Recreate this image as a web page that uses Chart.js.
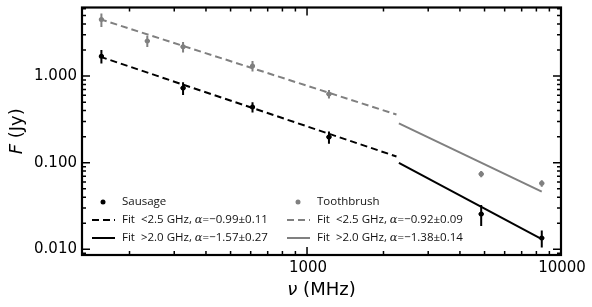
<!DOCTYPE html>
<html>
<head>
<meta charset="utf-8">
<script src="https://cdn.jsdelivr.net/npm/chart.js@4/dist/chart.umd.min.js"></script>
<style>
  html, body { margin: 0; padding: 0; background: #fff; }
  #wrap { width: 592px; height: 307px; }
</style>
</head>
<body>
<div id="wrap"><canvas id="c"></canvas></div>
<script>
// Dati (MHz, Jy)
const freqSausage = [155, 325, 610, 1220, 4850, 8400];
const fluxSausage = [1.70, 0.727, 0.44, 0.198, 0.0256, 0.0135];
const errSausage = [0.30, 0.12, 0.06, 0.032, 0.007, 0.003];

const freqToothbrush = [155, 235, 325, 610, 1220, 4850, 8400];
const fluxToothbrush = [4.5, 2.55, 2.18, 1.31, 0.62, 0.074, 0.0578];
const errToothbrush = [0.8, 0.38, 0.3, 0.18, 0.07, 0.006, 0.005];

// Rette di fit (estremi)
const fitLowFreq = [153, 2250];
const fitLowSausage = [1.68, 0.118];
const fitLowToothbrush = [4.55, 0.36];
const fitHighFreq = [2300, 8400];
const fitHighSausage = [0.0993, 0.0131];
const fitHighToothbrush = [0.285, 0.0463];

// Tick
const xMajorTicks = [1000, 10000];
const xMinorTicks = [200, 300, 400, 500, 600, 700, 800, 900, 2000, 3000, 4000, 5000, 6000, 7000, 8000, 9000];
const yMajorTicks = [0.01, 0.1, 1];
const yMinorTicks = [0.009, 0.02, 0.03, 0.04, 0.05, 0.06, 0.07, 0.08, 0.09,
                     0.2, 0.3, 0.4, 0.5, 0.6, 0.7, 0.8, 0.9, 2, 3, 4, 5, 6];

// Legenda
const legendRows = [
    ['Sausage', 'Toothbrush'],
    ['Fit  <2.5 GHz, ', 'Fit  <2.5 GHz, '],
    ['Fit  >2.0 GHz, ', 'Fit  >2.0 GHz, ']
];
const legendAlpha = [['', ''], ['=\u22120.99\u00b10.11', '=\u22120.92\u00b10.09'], ['=\u22121.57\u00b10.27', '=\u22121.38\u00b10.14']];

const GRAY = '#808080';
const toXY = (xs, ys) => xs.map((x, i) => ({ x: x, y: ys[i] }));

// Barre d'errore
const errorBars = {
    id: 'errorBars',
    afterDatasetsDraw(chart) {
        const ctx = chart.ctx;
        const xs = chart.scales.x, ys = chart.scales.y;
        chart.data.datasets.forEach(ds => {
            if (!ds.errors) return;
            ctx.save();
            ctx.strokeStyle = ds.backgroundColor;
            ctx.lineWidth = 2;
            ds.data.forEach((p, i) => {
                const px = xs.getPixelForValue(p.x);
                const top = ys.getPixelForValue(p.y + ds.errors[i]);
                const bot = ys.getPixelForValue(Math.max(p.y - ds.errors[i], 1e-4));
                const py = ys.getPixelForValue(p.y);
                ctx.beginPath();
                ctx.moveTo(px, top); ctx.lineTo(px, bot);
                ctx.moveTo(px - 2.5, py); ctx.lineTo(px + 2.5, py);
                ctx.stroke();
            });
            ctx.restore();
        });
    }
};

// Cornice, tick, etichette, titoli e legenda
const decor = {
    id: 'decor',
    afterDraw(chart) {
        const ctx = chart.ctx;
        const a = chart.chartArea;
        const xs = chart.scales.x, ys = chart.scales.y;
        ctx.save();
        ctx.strokeStyle = '#000';
        ctx.lineWidth = 1.5;
        ctx.beginPath();
        const xt = (v, len) => {
            const px = xs.getPixelForValue(v);
            ctx.moveTo(px, a.bottom); ctx.lineTo(px, a.bottom - len);
            ctx.moveTo(px, a.top); ctx.lineTo(px, a.top + len);
        };
        const yt = (v, len) => {
            const py = ys.getPixelForValue(v);
            if (py < a.top || py > a.bottom) return;
            ctx.moveTo(a.left, py); ctx.lineTo(a.left + len, py);
            ctx.moveTo(a.right, py); ctx.lineTo(a.right - len, py);
        };
        xMajorTicks.forEach(v => xt(v, 8));
        xMinorTicks.forEach(v => xt(v, 4));
        yMajorTicks.forEach(v => yt(v, 8));
        yMinorTicks.forEach(v => yt(v, 4));
        ctx.stroke();
        ctx.lineWidth = 2.2;
        ctx.strokeRect(a.left, a.top, a.right - a.left, a.bottom - a.top);

        // Etichette dei tick
        ctx.fillStyle = '#000';
        ctx.font = '15px "DejaVu Sans"';
        ctx.textAlign = 'center';
        ctx.textBaseline = 'middle';
        xMajorTicks.forEach(v => ctx.fillText(String(v), xs.getPixelForValue(v) + 1, a.bottom + 13));
        ctx.textAlign = 'right';
        yMajorTicks.forEach(v => ctx.fillText(v.toFixed(3), a.left - 5, ys.getPixelForValue(v)));

        // Titoli degli assi
        const mixed = (parts, cx, cy) => {
            let w = 0;
            parts.forEach(p => { ctx.font = p[1]; w += ctx.measureText(p[0]).width; });
            let x = cx - w / 2;
            ctx.textAlign = 'left';
            parts.forEach(p => { ctx.font = p[1]; ctx.fillText(p[0], x, cy); x += ctx.measureText(p[0]).width; });
        };
        const tf = '18px "DejaVu Sans"', ti = 'italic 18px "DejaVu Sans"';
        mixed([['\u03bd', ti], [' (MHz)', tf]], (a.left + a.right) / 2, 290);
        ctx.save();
        ctx.translate(17, (a.top + a.bottom) / 2);
        ctx.rotate(-Math.PI / 2);
        mixed([['F', ti], [' (Jy)', tf]], 0, 0);
        ctx.restore();

        // Legenda
        const cols = [{ x: 92, color: '#000' }, { x: 287, color: GRAY }];
        const rowsY = [202, 220, 238];
        const lf = '11.5px "Open Sans"', lfi = 'italic 11.5px "DejaVu Serif"';
        cols.forEach((c, ci) => {
            rowsY.forEach((y, ri) => {
                ctx.strokeStyle = c.color;
                ctx.fillStyle = c.color;
                ctx.lineWidth = 2;
                if (ri === 0) {
                    ctx.beginPath();
                    ctx.arc(c.x + 11, y, 2.5, 0, Math.PI * 2);
                    ctx.fill();
                } else {
                    ctx.setLineDash(ri === 1 ? [7, 4] : []);
                    ctx.beginPath();
                    ctx.moveTo(c.x, y); ctx.lineTo(c.x + 23, y);
                    ctx.stroke();
                    ctx.setLineDash([]);
                }
                ctx.fillStyle = '#111';
                ctx.textAlign = 'left';
                let x = c.x + 30;
                ctx.font = lf;
                ctx.fillText(legendRows[ri][ci], x, y);
                x += ctx.measureText(legendRows[ri][ci]).width;
                if (legendAlpha[ri][ci]) {
                    ctx.font = lfi;
                    ctx.fillText('\u03b1', x, y);
                    x += ctx.measureText('\u03b1').width;
                    ctx.font = lf;
                    ctx.fillText(legendAlpha[ri][ci], x, y);
                }
            });
        });
        ctx.restore();
    }
};

new Chart(document.getElementById('c'), {
    type: 'scatter',
    data: {
        datasets: [
            { label: 'Sausage', data: toXY(freqSausage, fluxSausage), errors: errSausage,
              backgroundColor: '#000', borderColor: '#000', pointRadius: 2.5, borderWidth: 0 },
            { label: 'Toothbrush', data: toXY(freqToothbrush, fluxToothbrush), errors: errToothbrush,
              backgroundColor: GRAY, borderColor: GRAY, pointRadius: 2.5, borderWidth: 0 },
            { type: 'line', data: toXY(fitLowFreq, fitLowSausage), borderColor: '#000',
              borderWidth: 2, borderDash: [7, 4], pointRadius: 0, fill: false },
            { type: 'line', data: toXY(fitHighFreq, fitHighSausage), borderColor: '#000',
              borderWidth: 2, pointRadius: 0, fill: false },
            { type: 'line', data: toXY(fitLowFreq, fitLowToothbrush), borderColor: GRAY,
              borderWidth: 2, borderDash: [7, 4], pointRadius: 0, fill: false },
            { type: 'line', data: toXY(fitHighFreq, fitHighToothbrush), borderColor: GRAY,
              borderWidth: 2, pointRadius: 0, fill: false }
        ]
    },
    options: {
        responsive: true,
        maintainAspectRatio: false,
        animation: false,
        layout: { padding: { left: 82, right: 31, top: 7.5, bottom: 52 } },
        plugins: { legend: { display: false }, tooltip: { enabled: false } },
        scales: {
            x: {
                type: 'logarithmic', min: 130, max: 10000,
                grid: { display: false, drawTicks: false, tickLength: 0 }, border: { display: false },
                ticks: { display: false }
            },
            y: {
                type: 'logarithmic', min: 0.0086, max: 6.2,
                grid: { display: false, drawTicks: false, tickLength: 0 }, border: { display: false },
                ticks: { display: false }
            }
        }
    },
    plugins: [errorBars, decor]
});
</script>
</body>
</html>
